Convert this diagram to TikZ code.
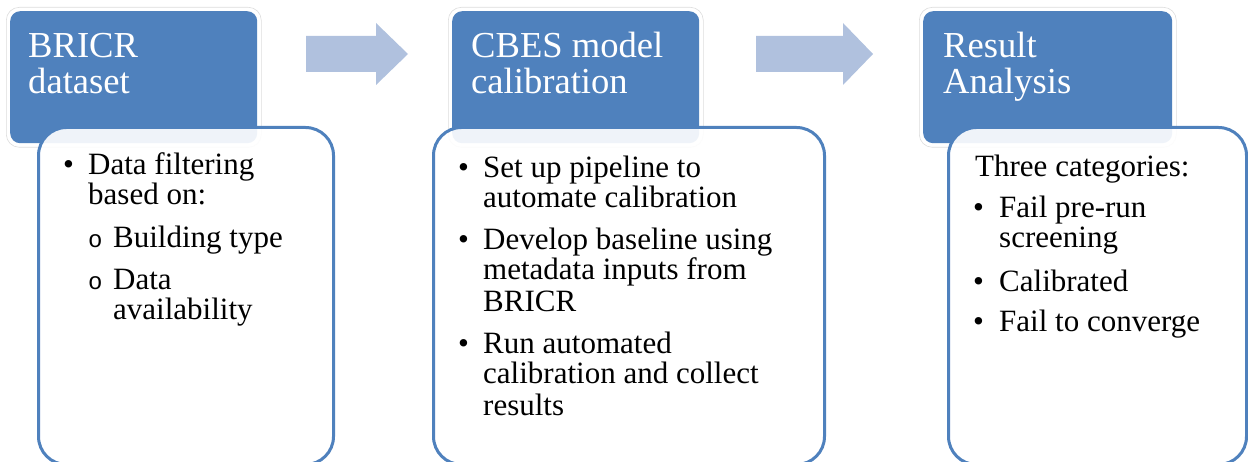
\documentclass[tikz,border=0pt]{standalone}
\usepackage{fontspec}
\setmainfont{Liberation Serif}
\newfontfamily\subbfont{Liberation Mono}
\definecolor{hdr}{HTML}{4F81BD}
\definecolor{arr}{HTML}{B0C1DE}
\definecolor{halo}{HTML}{DDDDDD}
\begin{document}
\begin{tikzpicture}[x=1pt,y=-1pt,
  halobox/.style={draw=halo, line width=0.6pt, fill=white, rounded corners=13pt, anchor=north west, inner sep=0pt},
  hdrbox/.style={fill=hdr, rounded corners=10pt, anchor=north west, inner sep=0pt, minimum height=132pt},
  bodybox/.style={draw=hdr, line width=3pt, fill=white, fill opacity=0.91, rounded corners=28pt, anchor=north west, inner sep=0pt, minimum height=337pt},
  htext/.style={text=white, font=\fontsize{36.6}{36}\selectfont, anchor=base west, inner sep=0pt},
  btext/.style={text=black, font=\fontsize{31}{30}\selectfont, anchor=base west, inner sep=0pt},
  subb/.style={text=black, font=\subbfont\fontsize{24}{24}\selectfont, anchor=base west, inner sep=0pt},
  arrowfill/.style={fill=arr}]
\useasboundingbox (0,0) rectangle (1248,462);
\clip (0,0) rectangle (1248,462);

% ---------- block 1 ----------
\node[halobox, minimum width=255pt, minimum height=140pt] (h1halo) at (6,7) {};
\node[hdrbox, minimum width=247pt] (h1) at (10,11) {};
\node[bodybox, minimum width=295pt] (b1) at (37,126) {};
\node[htext] (h1a) at (28,58) {BRICR};
\node[htext] (h1b) at (28,94) {dataset};
\node[btext] (b1u1) at (63,175) {•};
\node[btext] (b1l1) at (88,175) {Data filtering};
\node[btext] (b1l2) at (88,205) {based on:};
\node[subb] (b1s1) at (88,248) {o};
\node[btext] (b1l3) at (113,248) {Building type};
\node[subb] (b1s2) at (88,290) {o};
\node[btext] (b1l4) at (113,290) {Data};
\node[btext] (b1l5) at (113,320) {availability};

% ---------- arrow 1 ----------
\coordinate (a1t) at (408,54);
\fill[arrowfill] (306,36) -- (376,36) -- (376,23) -- (a1t) -- (376,85) -- (376,72) -- (306,72) -- cycle;

% ---------- block 2 ----------
\node[halobox, minimum width=255pt, minimum height=140pt] (h2halo) at (448,7) {};
\node[hdrbox, minimum width=247pt] (h2) at (452,11) {};
\node[bodybox, minimum width=391pt] (b2) at (432,126) {};
\node[htext] (h2a) at (471,58) {CBES model};
\node[htext] (h2b) at (471,94) {calibration};
\node[btext] (b2u1) at (458,178) {•};
\node[btext] (b2l1) at (483,178) {Set up pipeline to};
\node[btext] (b2l2) at (483,208) {automate calibration};
\node[btext] (b2u2) at (458,250) {•};
\node[btext] (b2l3) at (483,250) {Develop baseline using};
\node[btext] (b2l4) at (483,280) {metadata inputs from};
\node[btext] (b2l5) at (483,312) {BRICR};
\node[btext] (b2u3) at (458,353) {•};
\node[btext] (b2l6) at (483,353) {Run automated};
\node[btext] (b2l7) at (483,383) {calibration and collect};
\node[btext] (b2l8) at (483,415) {results};

% ---------- arrow 2 ----------
\coordinate (a2t) at (873,54);
\fill[arrowfill] (756,36) -- (843,36) -- (843,23) -- (a2t) -- (843,85) -- (843,72) -- (756,72) -- cycle;

% ---------- block 3 ----------
\node[halobox, minimum width=257pt, minimum height=140pt] (h3halo) at (919,7) {};
\node[hdrbox, minimum width=249pt] (h3) at (923,11) {};
\node[bodybox, minimum width=298pt] (b3) at (947,126) {};
\node[htext] (h3a) at (943,58) {Result};
\node[htext] (h3b) at (943,94) {Analysis};
\node[btext] (b3l0) at (975,177) {Three categories:};
\node[btext] (b3u1) at (973,218) {•};
\node[btext] (b3l1) at (999,218) {Fail pre-run};
\node[btext] (b3l2) at (999,248) {screening};
\node[btext] (b3u2) at (973,292) {•};
\node[btext] (b3l3) at (999,292) {Calibrated};
\node[btext] (b3u3) at (973,332) {•};
\node[btext] (b3l4) at (999,332) {Fail to converge};
\end{tikzpicture}
\end{document}
